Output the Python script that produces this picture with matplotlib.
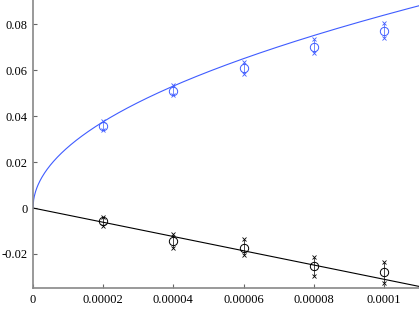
# Blue and black measurements with min/max crosses and fitted curves.

import numpy as np
import matplotlib
matplotlib.use("Agg")
import matplotlib.pyplot as plt

x_pts = [0.00002, 0.00004, 0.00006, 0.00008, 0.0001]

blue_mean = [0.0358, 0.0510, 0.0607, 0.0702, 0.0768]
blue_max = [0.0378, 0.0535, 0.0636, 0.0737, 0.0805]
blue_min = [0.0340, 0.0490, 0.0582, 0.0675, 0.0740]

black_mean = [-0.0058, -0.0142, -0.0172, -0.0252, -0.0278]
black_max = [-0.0038, -0.0112, -0.0133, -0.0213, -0.0235]
black_min = [-0.0080, -0.0172, -0.0206, -0.0296, -0.0328]

# fitted curves: blue = a*sqrt(x), black = b*x
blue_coef = 8.39
black_coef = -310.0

x_ticks = [0, 0.00002, 0.00004, 0.00006, 0.00008, 0.0001]
x_labels = ['0', '0.00002', '0.00004', '0.00006', '0.00008', '0.0001']
y_ticks = [-0.02, 0, 0.02, 0.04, 0.06, 0.08]
y_labels = ['-0.02', '0', '0.02', '0.04', '0.06', '0.08']

BLUE = '#3f5cff'


def plot_series(ax, mean, lo, hi, color):
    ax.vlines(x_pts, lo, hi, color=color, lw=0.5)
    ax.plot(x_pts, hi, 'x', color=color, ms=3.5, mew=0.6)
    ax.plot(x_pts, lo, 'x', color=color, ms=3.5, mew=0.6)
    ax.plot(x_pts, mean, 'o', mfc='none', mec=color, ms=6, mew=0.7)


def main():
    plt.rcParams['font.family'] = 'serif'
    plt.rcParams['font.serif'] = ['Liberation Serif', 'DejaVu Serif']
    fig = plt.figure(figsize=(4.19, 3.27), dpi=100)
    ax = fig.add_axes([33 / 419, 39 / 327, 1 - 33 / 419, 1 - 39 / 327])

    xs = np.linspace(0, 0.00011, 600)
    ax.plot(xs, blue_coef * np.sqrt(xs), color=BLUE, lw=0.8)
    ax.plot(xs, black_coef * xs, color='black', lw=0.8)

    plot_series(ax, blue_mean, blue_min, blue_max, BLUE)
    plot_series(ax, black_mean, black_min, black_max, 'black')

    ax.set_xlim(0, 0.00011)
    ax.set_ylim(-0.0348, 0.0905)
    ax.set_xticks(x_ticks)
    ax.set_xticklabels(x_labels)
    ax.set_yticks(y_ticks)
    ax.set_yticklabels(y_labels)

    for side in ['top', 'right']:
        ax.spines[side].set_visible(False)
    for side in ['left', 'bottom']:
        ax.spines[side].set_color('#888888')
        ax.spines[side].set_linewidth(1.2)
    ax.tick_params(direction='in', length=3, color='#666666', labelsize=9, pad=4)

    fig.savefig('out.png', dpi=100)


if __name__ == "__main__":
    main()
